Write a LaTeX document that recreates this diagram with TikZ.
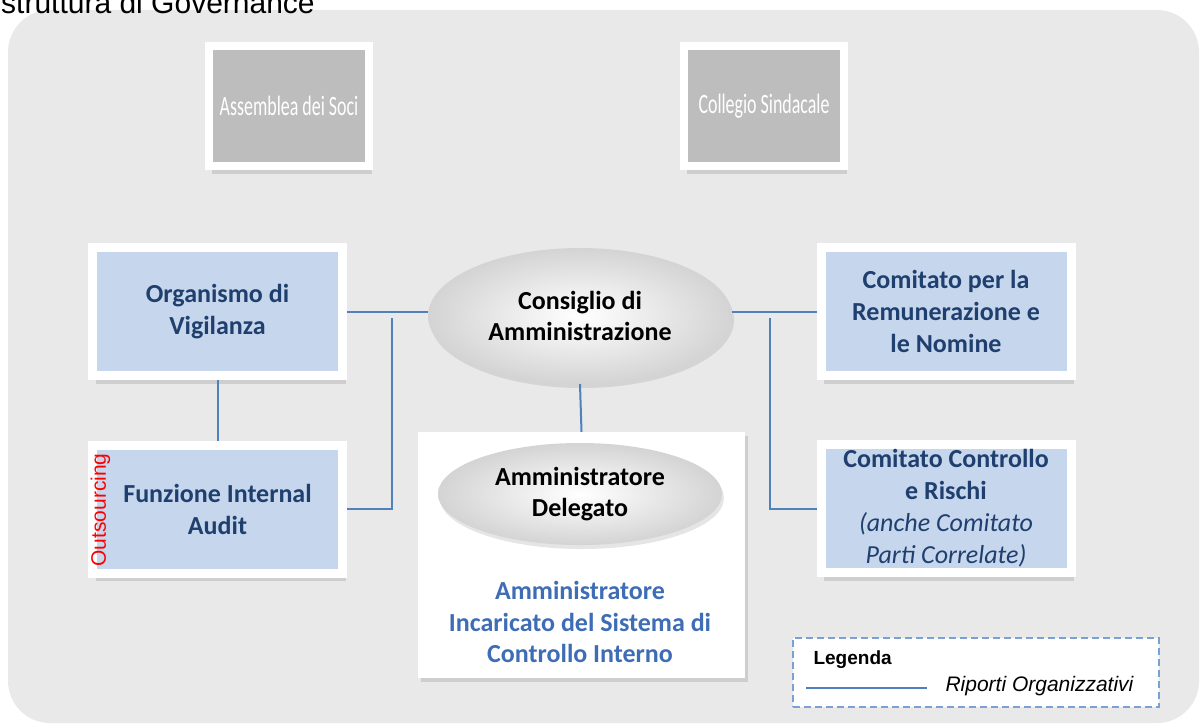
\documentclass[tikz,border=0pt]{standalone}
\usepackage{fontspec}
\setmainfont{Carlito}
\newfontfamily\arialfont{Liberation Sans}
\usetikzlibrary{positioning,shapes.geometric,shadows}
\definecolor{bggrey}{HTML}{E9E9E9}
\definecolor{topgrey}{HTML}{BDBDBD}
\definecolor{boxblue}{HTML}{C6D6EC}
\definecolor{navy}{HTML}{1F3F6E}
\definecolor{linkblue}{HTML}{4F81BD}
\definecolor{icblue}{HTML}{3E6DB5}
\definecolor{legdash}{HTML}{7AA0D4}

\begin{document}
\begin{tikzpicture}[x=1pt,y=1pt,on grid,
                framed/.style={draw=white,line width=9pt,fill=boxblue,text=navy,
                    font=\bfseries\fontsize{26}{32}\selectfont,align=center,
                    minimum width=250pt,minimum height=128pt,inner sep=0pt,
                    drop shadow={shadow xshift=3pt,shadow yshift=-8pt,opacity=.25}},
                topbox/.style={framed,fill=topgrey,text=white,line width=8pt,
                    minimum width=160pt,minimum height=120pt,
                    font=\fontsize{28}{32}\selectfont},
                board/.style={ellipse,shading=radial,inner color=white,outer color=black!17,
                    font=\bfseries\fontsize{26}{31}\selectfont,align=center,inner sep=0pt,
                    drop shadow={shadow xshift=2pt,shadow yshift=-4pt,opacity=.2}},
                link/.style={draw=linkblue,line width=2pt}]
                \clip (0,0) rectangle (1201,-724);
                % background
                \fill[bggrey,rounded corners=42pt] (8,-10) rectangle (1199,-723);
                \node[anchor=base west,inner sep=0pt,font=\arialfont\fontsize{30}{30}\selectfont]
                    (title) at (1,-13) {struttura di Governance};
                % organi
                \node[topbox] (ads) at (289,-106) {\scalebox{0.64}[1]{Assemblea dei Soci}};
                \node[topbox] (cs) at (764,-106) {\scalebox{0.64}[1]{Collegio Sindacale}};
                \node[framed] (odv) at (217.5,-311.5) {Organismo di\\Vigilanza};
                \node[framed] (audit) [below=197.5pt of odv] {Funzione Internal\\Audit};
                \node[rotate=90,text=red,font=\arialfont\fontsize{21}{21}\selectfont]
                    (outs) at (100.5,-510) {Outsourcing};
                \node[framed] (crn) at (946,-311.5) {Comitato per la\\Remunerazione e\\le Nomine};
                \node[framed] (ccr) [below=197pt of crn] {Comitato Controllo\\e Rischi\\
                    {\mdseries\itshape (anche Comitato}\\{\mdseries\itshape Parti Correlate)}};
                \node[board,minimum width=304pt,minimum height=136pt] (cda) at (580,-316)
                    {Consiglio di\\Amministrazione};
                \node[fill=white,minimum width=327pt,minimum height=246pt,
                    drop shadow={shadow xshift=3pt,shadow yshift=-4pt,opacity=.25}]
                    (wbox) at (581.5,-555) {};
                \node[board,minimum width=284pt,minimum height=102pt] (ad) at (580,-494)
                    {Amministratore\\Delegato};
                \node[text=icblue,align=center,font=\bfseries\fontsize{26}{31.5}\selectfont]
                    (aic) [below=128pt of ad] {Amministratore\\Incaricato del Sistema di\\Controllo Interno};
                % riporti
                \coordinate (jl) at (392,-318);
                \coordinate (jr) at (770,-318);
                \draw[link] (odv.east) -- (odv.east -| cda.west);
                \draw[link] (crn.west) -- (crn.west -| cda.east);
                \draw[link] (odv.south) -- (audit.north);
                \draw[link] (cda.south) -- (wbox.north);
                \draw[link] (jl) |- (audit.east);
                \draw[link] (jr) |- (ccr.west);
                % legenda
                \node[draw=legdash,dashed,dash pattern=on 7pt off 4pt,line width=1.5pt,fill=white,
                    minimum width=366pt,minimum height=69pt] (leg) at (976,-672.5) {};
                \node[anchor=west,font=\arialfont\bfseries\fontsize{19}{19}\selectfont]
                    (legt) at (810,-660) {Legenda};
                \coordinate (la) at (806,-688);
                \coordinate (lb) at (927,-688);
                \draw[link] (la) -- (lb);
                \node[anchor=west,font=\arialfont\itshape\fontsize{21}{21}\selectfont]
                    (legr) at (942,-686) {Riporti Organizzativi};
            \end{tikzpicture}
\end{document}
